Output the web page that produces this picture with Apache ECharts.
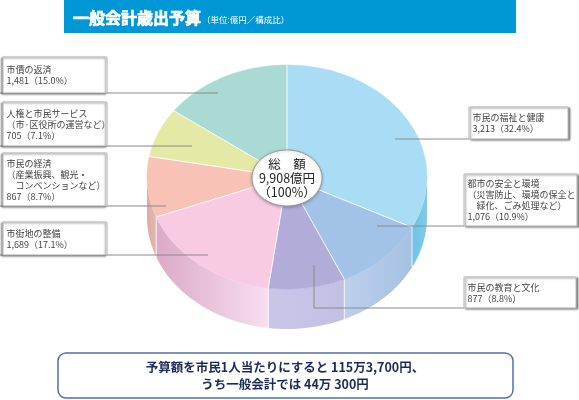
<!DOCTYPE html>
<html><head><meta charset="utf-8">
<script src="https://cdn.jsdelivr.net/npm/echarts@6/dist/echarts.min.js"></script>
<style>html,body{margin:0;padding:0;background:#fff}#c{width:579px;height:400px}</style>
</head><body><div id="c"></div>
<script>
// ---- data ----
const categories = ['市民の福祉と健康','都市の安全と環境','市民の教育と文化','市街地の整備','市民の経済','人権と市民サービス','市債の返済'];
const values = [3213, 1076, 877, 1689, 867, 705, 1481];
const shares = [32.4, 10.9, 8.8, 17.1, 8.7, 7.1, 15.0];
const details = ['', '（災害防止、環境の保全と\n　緑化、ごみ処理など）', '', '', '（産業振興、観光・\n　コンベンションなど）', '（市·区役所の運営など）', ''];
const titleText = '一般会計歳出予算';
const unitText = '（単位:億円／構成比）';
const totalCaption = ['総　額', '億円', '（100%）'];
const noteLines = ['予算額を市民1人当たりにすると 115万3,700円、', 'うち一般会計では 44万 300円'];

// ---- styles / layout ----
const topColors = ['#a9ddf5', '#a2c3e7', '#b1acd8', '#f8cbe3', '#f8c3b6', '#e4eaa5', '#a9dbd4'];
const sideColors = [['#6cc3e4','#80cbe8'], ['#bcd0ec','#a6c1e3'], ['#cac6e8','#c4c0e4'], ['#dcaac6','#f7def0'], ['#dcaaa4','#e8b8b0'], ['#d8de98','#d8de98'], ['#9ccfc8','#9ccfc8']];
const PIE = {cx: 287, cy: 177, rx: 140, ry: 112, depth: 40};
// label boxes: [x, y, w, h], anchor point inside slice, side
const boxLayout = [
  {box: [469, 107, 99, 32], anchor: [395, 139], side: 'r'},
  {box: [464, 174, 113, 52], anchor: [377, 226], side: 'r'},
  {box: [464, 277, 112, 31], anchor: [314, 265], side: 'r', elbow: true},
  {box: [3, 222, 104, 33], anchor: [208, 255], side: 'l'},
  {box: [3, 153, 104, 53], anchor: [166, 206], side: 'l'},
  {box: [3, 102, 104, 44], anchor: [192, 146], side: 'l'},
  {box: [3, 57, 104, 36], anchor: [218, 93], side: 'l'}
];
const FONT = '"Noto Sans CJK JP", "Noto Sans", sans-serif';

const total = values.reduce((a, b) => a + b, 0);
const startAngles = [];
values.reduce((acc, v, i) => { startAngles[i] = acc; return acc + 360 * v / total; }, 0);
const fmt = n => n.toLocaleString('en-US');

function pt(theta, dy) {
  const t = theta * Math.PI / 180;
  return [PIE.cx + PIE.rx * Math.sin(t), PIE.cy - PIE.ry * Math.cos(t) + (dy || 0)];
}
function arc(a0, a1, dy) {
  const n = Math.max(2, Math.ceil(Math.abs(a1 - a0) / 2));
  const pts = [];
  for (let i = 0; i <= n; i++) pts.push(pt(a0 + (a1 - a0) * i / n, dy));
  return pts;
}

const chart = echarts.init(document.getElementById('c'), null, {renderer: 'canvas'});
const seriesData = values.map(v => [v]);

const graphics = [];
// title bar
graphics.push({type: 'rect', shape: {x: 64, y: 0, width: 452, height: 33}, style: {fill: '#0097d7'}, z: 10});
graphics.push({type: 'text', x: 73, y: 18, style: {text: titleText, font: 'bold 16px ' + FONT, fill: '#fff', stroke: '#fff', lineWidth: 0.7, textVerticalAlign: 'middle'}, z: 11});
graphics.push({type: 'text', x: 202, y: 20, style: {text: unitText, font: '8.5px ' + FONT, fill: '#fff', textVerticalAlign: 'middle'}, z: 11});

// label boxes + leader lines
boxLayout.forEach((L, i) => {
  const [bx, by, bw, bh] = L.box;
  const lines = [categories[i]];
  if (details[i]) lines.push(details[i]);
  lines.push(fmt(values[i]) + '（' + shares[i].toFixed(1) + '%）');
  const lineY = by + bh;
  const lineStyle = {stroke: '#8a8a8a', lineWidth: 1};
  if (L.side === 'l') {
    graphics.push({type: 'line', shape: {x1: 0, y1: lineY, x2: L.anchor[0], y2: lineY}, style: lineStyle, z: 12});
  } else if (L.elbow) {
    graphics.push({type: 'polyline', shape: {points: [L.anchor, [L.anchor[0], lineY], [bx, lineY]]}, style: Object.assign({fill: null}, lineStyle), z: 12});
  } else {
    graphics.push({type: 'line', shape: {x1: L.anchor[0], y1: lineY, x2: bx, y2: lineY}, style: lineStyle, z: 12});
  }
  graphics.push({type: 'rect', shape: {x: bx, y: by, width: bw, height: bh}, style: {fill: '#fff', stroke: '#b8b8b8', lineWidth: 1, shadowColor: 'rgba(0,0,0,0.45)', shadowBlur: 2, shadowOffsetX: L.side === 'l' ? -1.5 : 1.5, shadowOffsetY: 1}, z: 13});
  graphics.push({type: 'text', x: bx + 3.5, y: by + bh / 2 + 0.5, style: {text: lines.join('\n'), font: '9px ' + FONT, fill: '#444', lineHeight: 11, textVerticalAlign: 'middle'}, z: 14});
});

// centre label
const ell = [];
for (let k = 0; k < 72; k++) { const t = k / 72 * Math.PI * 2; ell.push([287 + 35 * Math.cos(t), 178 + 28 * Math.sin(t)]); }
graphics.push({type: 'polygon', shape: {points: ell}, style: {fill: '#fff', stroke: '#9a9a9a', lineWidth: 1, shadowColor: 'rgba(0,0,0,0.25)', shadowBlur: 3, shadowOffsetY: 1}, z: 15});
graphics.push({type: 'text', x: 287, y: 178, style: {text: totalCaption[0] + '\n' + fmt(total) + totalCaption[1] + '\n' + totalCaption[2], font: '12.5px ' + FONT, fill: '#222', lineHeight: 14, textAlign: 'center', textVerticalAlign: 'middle'}, z: 16});

// bottom note
graphics.push({type: 'rect', shape: {x: 58, y: 353, width: 455, height: 45, r: 8}, style: {fill: '#fff', stroke: '#5270aa', lineWidth: 1.5}, z: 10});
graphics.push({type: 'text', x: 285, y: 376, style: {text: noteLines.join('\n'), font: 'bold 12.5px ' + FONT, fill: '#1b2a5c', lineHeight: 17, textAlign: 'center', textVerticalAlign: 'middle'}, z: 11});

chart.setOption({
  backgroundColor: '#fff',
  animation: false,
  series: [
    {
      type: 'custom', coordinateSystem: 'none', silent: true, z: 2,
      data: seriesData,
      renderItem: function (params, api) {
        const i = params.dataIndex;
        const a0 = startAngles[i], a1 = a0 + 360 * api.value(0) / total;
        const s = Math.max(a0, 90), e = Math.min(a1, 270);
        if (e <= s) return {type: 'group', children: []};
        const top = arc(s, e, 0), bot = arc(e, s, PIE.depth);
        const children = [{
          type: 'polygon', shape: {points: top.concat(bot)},
          style: {fill: new echarts.graphic.LinearGradient(0, 0, 1, 0, [{offset: 0, color: sideColors[i][0]}, {offset: 1, color: sideColors[i][1]}]), stroke: null}
        }];
        if (a0 > 90 && a0 < 270) {
          const p = pt(a0, 0);
          children.push({type: 'line', shape: {x1: p[0], y1: p[1], x2: p[0], y2: p[1] + PIE.depth}, style: {stroke: 'rgba(255,255,255,0.8)', lineWidth: 1}});
        }
        return {type: 'group', children: children};
      }
    },
    {
      type: 'custom', coordinateSystem: 'none', silent: true, z: 3,
      data: seriesData,
      renderItem: function (params, api) {
        const i = params.dataIndex;
        const a0 = startAngles[i], a1 = a0 + 360 * api.value(0) / total;
        const pts = [[PIE.cx, PIE.cy]].concat(arc(a0, a1, 0));
        const p = pt(a0, 0);
        return {type: 'group', children: [
          {type: 'polygon', shape: {points: pts}, style: {fill: topColors[i], stroke: topColors[i], lineWidth: 0.5}},
          {type: 'line', z2: 5, shape: {x1: PIE.cx, y1: PIE.cy, x2: p[0], y2: p[1]}, style: {stroke: 'rgba(255,255,255,0.9)', lineWidth: 1}}
        ]};
      }
    }
  ],
  graphic: {elements: graphics}
});
</script></body></html>
